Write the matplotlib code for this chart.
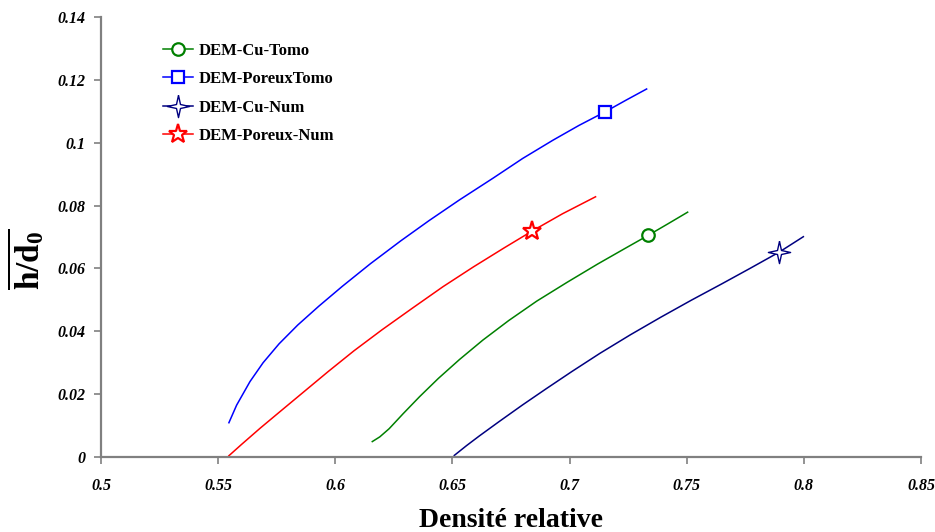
import numpy as np
import matplotlib
matplotlib.use('Agg')
import matplotlib.pyplot as plt

# Data (relative density vs mean h/d0)
cu_tomo_x = [0.6158, 0.6190, 0.6230, 0.6290, 0.6360, 0.6440, 0.6530, 0.6630, 0.6740, 0.6860,
             0.6990, 0.7120, 0.7240, 0.7335, 0.7420, 0.7504]
cu_tomo_y = [0.0049, 0.0064, 0.0090, 0.0138, 0.0192, 0.0250, 0.0310, 0.0372, 0.0434, 0.0496,
             0.0556, 0.0614, 0.0665, 0.0705, 0.0742, 0.0779]
cu_tomo_mark = 13

por_tomo_x = [0.5546, 0.5579, 0.5636, 0.5692, 0.5760, 0.5840, 0.5930, 0.6030, 0.6150, 0.6280,
              0.6400, 0.6530, 0.6673, 0.6800, 0.6929, 0.7040, 0.7151, 0.7240, 0.7329]
por_tomo_y = [0.0109, 0.0165, 0.0240, 0.0300, 0.0360, 0.0420, 0.0480, 0.0543, 0.0615, 0.0688,
              0.0752, 0.0818, 0.0887, 0.0950, 0.1008, 0.1055, 0.1098, 0.1135, 0.1171]
por_tomo_mark = 16

cu_num_x = [0.6508, 0.6560, 0.6615, 0.6700, 0.6800, 0.6900, 0.7010, 0.7130, 0.7260, 0.7390,
            0.7520, 0.7650, 0.7770, 0.7895, 0.7998]
cu_num_y = [0.0005, 0.0036, 0.0067, 0.0113, 0.0166, 0.0217, 0.0272, 0.0330, 0.0389, 0.0445,
            0.0499, 0.0551, 0.0600, 0.0652, 0.0701]
cu_num_mark = 13

por_num_x = [0.5546, 0.5600, 0.5680, 0.5770, 0.5870, 0.5970, 0.6080, 0.6200, 0.6330, 0.6460,
             0.6590, 0.6720, 0.6838, 0.6970, 0.7111]
por_num_y = [0.0004, 0.0040, 0.0092, 0.0148, 0.0210, 0.0272, 0.0338, 0.0405, 0.0474, 0.0542,
             0.0605, 0.0665, 0.0718, 0.0774, 0.0828]
por_num_mark = 12

xticks = [0.5, 0.55, 0.6, 0.65, 0.7, 0.75, 0.8, 0.85]
yticks = [0, 0.02, 0.04, 0.06, 0.08, 0.1, 0.12, 0.14]

plt.rcParams['font.family'] = ['Liberation Serif', 'DejaVu Serif']
plt.rcParams['mathtext.fontset'] = 'custom'
plt.rcParams['mathtext.rm'] = 'Liberation Serif:bold'
plt.rcParams['mathtext.bf'] = 'Liberation Serif:bold'
plt.rcParams['mathtext.it'] = 'Liberation Serif:bold'

star4 = [(0, 1), (0.18, 0.18), (1, 0), (0.18, -0.18), (0, -1),
         (-0.18, -0.18), (-1, 0), (-0.18, 0.18), (0, 1)]

fig = plt.figure(figsize=(9.35, 5.32), dpi=100)
ax = fig.add_axes([0.108, 0.141, 0.877, 0.827])

ax.plot(cu_tomo_x, cu_tomo_y, color='#008000', lw=1.1, marker='o', markevery=[cu_tomo_mark],
        ms=9, mfc='white', mec='#008000', mew=1.6, label='DEM-Cu-Tomo')
ax.plot(por_tomo_x, por_tomo_y, color='#0000FF', lw=1.1, marker='s', markevery=[por_tomo_mark],
        ms=9, mfc='white', mec='#0000FF', mew=1.6, label='DEM-PoreuxTomo')
ax.plot(cu_num_x, cu_num_y, color='#000080', lw=1.1, marker=star4, markevery=[cu_num_mark],
        ms=16, mfc='white', mec='#000080', mew=1.0, label='DEM-Cu-Num')
ax.plot(por_num_x, por_num_y, color='#FF0000', lw=1.1, marker='*', markevery=[por_num_mark],
        ms=14, mfc='white', mec='#FF0000', mew=1.6, label='DEM-Poreux-Num')

ax.set_xlim(0.5, 0.85)
ax.set_ylim(0, 0.14)
ax.set_xticks(xticks)
ax.set_yticks(yticks)
ax.set_xticklabels([f'{v:g}' for v in xticks], fontsize=11.5, fontweight='bold', fontstyle='italic')
ax.set_yticklabels([f'{v:g}' for v in yticks], fontsize=11.5, fontweight='bold', fontstyle='italic')

for s in ['top', 'right']:
    ax.spines[s].set_visible(False)
for s in ['left', 'bottom']:
    ax.spines[s].set_color('#808080')
    ax.spines[s].set_linewidth(1.6)
ax.tick_params(axis='both', direction='out', color='#808080', width=1.2, length=5)
ax.tick_params(axis='x', pad=10)
ax.tick_params(axis='y', pad=6)

ax.set_xlabel('Densité relative', fontsize=20, fontweight='bold')
ax.xaxis.set_label_coords(0.5, -0.115)
ax.set_ylabel(r'$\overline{\mathbf{h/d_0}}$', fontsize=24)
ax.yaxis.set_label_coords(-0.066, 0.45)

ax.legend(loc='upper left', bbox_to_anchor=(0.068, 0.957), frameon=False,
          prop={'weight': 'bold', 'size': 12}, handlelength=1.8, handletextpad=0.3,
          labelspacing=0.75, borderaxespad=0)

fig.savefig('out.png', dpi=100)
